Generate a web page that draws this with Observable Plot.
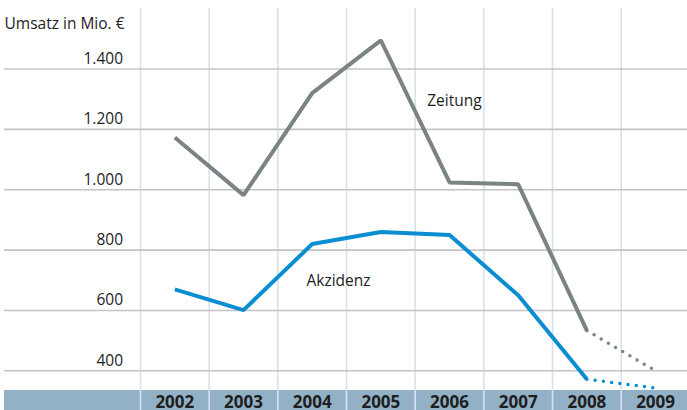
<!DOCTYPE html>
<html><head><meta charset="utf-8">
<script src="https://cdn.jsdelivr.net/npm/d3@7"></script>
<script src="https://cdn.jsdelivr.net/npm/@observablehq/plot@0.6"></script>
<style>body{margin:0;background:#fff}</style>
</head><body><div id="chart"></div>
<script>
const years = [2002, 2003, 2004, 2005, 2006, 2007, 2008, 2009];
const zeitung = [1173, 982, 1320, 1495, 1024, 1018, 533, 400];
const akzidenz = [670, 601, 820, 860, 850, 650, 372, 343];
const yTicks = [400, 600, 800, 1000, 1200, 1400];
const yTickLabels = ["400", "600", "800", "1.000", "1.200", "1.400"];
const yTitle = "Umsatz in Mio. €";
const seriesNames = ["Zeitung", "Akzidenz"];
const lastActual = 2008;

const rows = years.map((y, i) => ({year: y, zeitung: zeitung[i], akzidenz: akzidenz[i]}));
const solid = rows.filter(d => d.year <= lastActual);
const dotted = rows.filter(d => d.year >= lastActual);
const gridX = [...years.map(y => y - 0.5), years[years.length - 1] + 0.5];
const font = "'Open Sans', sans-serif";
const ink = "#1e1e1e";
const grayC = "#7b8383", blueC = "#0a8ed1";

const chart = Plot.plot({
  width: 687, height: 410,
  marginTop: 8, marginBottom: 20, marginLeft: 0, marginRight: 0,
  style: {fontFamily: font, background: "linear-gradient(#93b1c6,#93b1c6) no-repeat 4px 390px / 683px 20px, #fff", overflow: "visible"},
  x: {type: "linear", domain: [2001.5, 2009.5], range: [140, 689.4], axis: null},
  y: {domain: [400, 1400], range: [370.3, 68.5], axis: null},
  marks: [
    Plot.ruleX(gridX, {x: d => d, stroke: "#d6e2ee", strokeWidth: 1.6, insetBottom: -20}),
    Plot.ruleY(yTicks, {y: d => d, stroke: "#c4c4c4", strokeWidth: 1.6, insetLeft: 4}),
    Plot.text(yTicks, {y: d => d, text: (d, i) => yTickLabels[i], frameAnchor: "left", dx: 122.5, dy: -5, textAnchor: "end", lineAnchor: "bottom", fontSize: 15.5, fill: ink}),
    Plot.text([yTitle], {text: d => d, frameAnchor: "top-left", dx: 4, dy: 20.3, textAnchor: "start", lineAnchor: "bottom", fontSize: 15.5, fill: ink}),
    Plot.line(solid, {x: "year", y: "zeitung", stroke: grayC, strokeWidth: 4, strokeLinejoin: "miter", strokeLinecap: "butt"}),
    Plot.line(dotted, {x: "year", y: "zeitung", stroke: grayC, strokeWidth: 3.5, strokeDasharray: "0 8.3", strokeLinecap: "round"}),
    Plot.line(solid, {x: "year", y: "akzidenz", stroke: blueC, strokeWidth: 4, strokeLinejoin: "miter", strokeLinecap: "butt"}),
    Plot.line(dotted, {x: "year", y: "akzidenz", stroke: blueC, strokeWidth: 3.5, strokeDasharray: "0 8.3", strokeLinecap: "round"}),
    Plot.text([seriesNames[0]], {text: d => d, x: () => years[3], y: () => zeitung[3], dx: 46.3, dy: 65.2, textAnchor: "start", lineAnchor: "bottom", fontSize: 15.5, fill: ink}),
    Plot.text([seriesNames[1]], {text: d => d, x: () => years[2], y: () => akzidenz[2], dx: -5.7, dy: 41.5, textAnchor: "start", lineAnchor: "bottom", fontSize: 15.5, fill: ink}),
    Plot.text(years, {x: d => d, text: d => String(d), frameAnchor: "bottom", dy: 17.4, lineAnchor: "bottom", fontWeight: "bold", fontSize: 17, fill: ink})
  ]
});
document.getElementById("chart").append(chart);
</script>
</body></html>
